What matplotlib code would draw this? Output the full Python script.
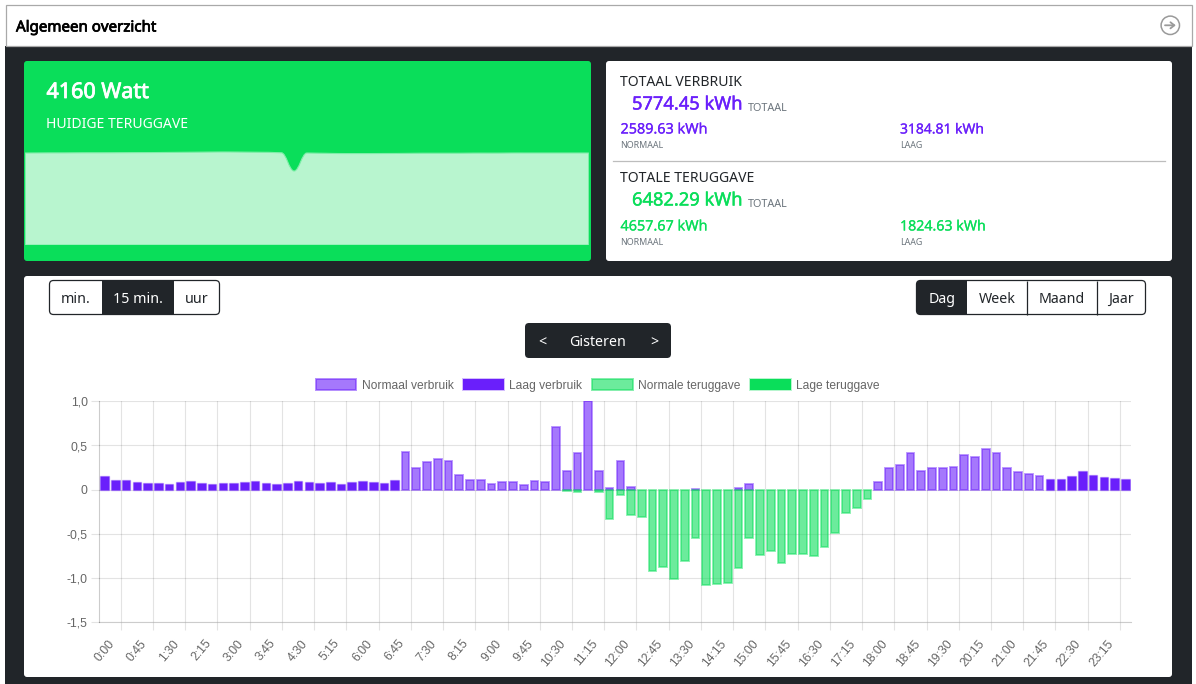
import numpy as np
import matplotlib
matplotlib.use("Agg")
import matplotlib.pyplot as plt
import matplotlib.patheffects as pe
from matplotlib.patches import FancyBboxPatch, Rectangle, PathPatch, Circle
from matplotlib.path import Path
from matplotlib.transforms import ScaledTranslation

W, H = 1196, 684
UI = "Noto Sans"
CH = "Liberation Sans"
DARK = "#212529"
GREEN = "#0ade5a"
PURPLE = "#6a1ffb"

# ---- data ----
minutes = list(range(0, 24 * 60, 15))
slots = [f"{m // 60}:{m % 60:02d}" for m in minutes]
tick_every = 3

normaal_verbruik = {
    28: .432, 29: .245, 30: .31, 31: .35, 32: .32, 33: .165, 34: .113, 35: .113,
    36: .068, 37: .09, 38: .083, 39: .056, 40: .10, 41: .086, 42: .707, 43: .214,
    44: .413, 45: 1.0, 46: .21, 47: .02, 48: .33, 49: .03, 55: .004, 59: .02,
    60: .066, 72: .086, 73: .241, 74: .278, 75: .41, 76: .21, 77: .244, 78: .244,
    79: .252, 80: .387, 81: .372, 82: .459, 83: .414, 84: .248, 85: .203, 86: .177,
    87: .154,
}
laag_verbruik = {
    0: .158, 1: .113, 2: .105, 3: .09, 4: .075, 5: .08, 6: .068, 7: .083, 8: .10,
    9: .08, 10: .065, 11: .08, 12: .08, 13: .083, 14: .098, 15: .072, 16: .065,
    17: .075, 18: .10, 19: .083, 20: .08, 21: .083, 22: .068, 23: .083, 24: .094,
    25: .09, 26: .072, 27: .105, 88: .124, 89: .117, 90: .158, 91: .214, 92: .165,
    93: .139, 94: .135, 95: .124,
}
normale_teruggave = {
    43: -.012, 44: -.026, 46: -.03, 47: -.335, 48: -.064, 49: -.29, 50: -.305,
    51: -.917, 52: -.872, 53: -1.015, 54: -.808, 55: -.545, 56: -1.083, 57: -1.068,
    58: -1.057, 59: -.891, 60: -.541, 61: -.744, 62: -.695, 63: -.831, 64: -.722,
    65: -.73, 66: -.752, 67: -.643, 68: -.489, 69: -.26, 70: -.207, 71: -.102,
}
lage_teruggave = {}

y_ticks = [1.0, 0.5, 0.0, -0.5, -1.0, -1.5]
y_labels = ["1,0", "0,5", "0", "-0,5", "-1,0", "-1,5"]

live_watt = [4160, 4162, 4165, 4165, 4168, 4170, 4170, 4172, 4175, 4178, 4180, 4185,
             4190, 4195, 4200, 4205, 4205, 4200, 4195, 4190, 4170, 3346, 4160, 4150,
             4140, 4135, 4135, 4135, 4138, 4140, 4145, 4150, 4150, 4150, 4150, 4155,
             4155, 4155, 4160, 4160, 4160, 4160, 4160, 4160, 4160]

fig = plt.figure(figsize=(W / 100, H / 100), dpi=100, facecolor="white")
page = fig.add_axes([0, 0, 1, 1])
page.set_xlim(0, W)
page.set_ylim(H, 0)
page.axis("off")


def px(size):
    return size * 0.72


def rect(x0, y0, x1, y1, fc, ec="none", lw=0, r=0, z=1):
    if r:
        p = FancyBboxPatch((x0 + r, y0 + r), x1 - x0 - 2 * r, y1 - y0 - 2 * r,
                           boxstyle=f"round,pad={r},rounding_size={r}",
                           fc=fc, ec=ec, lw=lw, zorder=z)
    else:
        p = Rectangle((x0, y0), x1 - x0, y1 - y0, fc=fc, ec=ec, lw=lw, zorder=z)
    page.add_patch(p)
    return p


def txt(x, y, s, size, color="#212529", heavy=0.0, ha="left", family=UI):
    t = page.text(x, y, s, fontsize=px(size), color=color, ha=ha,
                  va="center_baseline", family=family, zorder=5)
    if heavy:
        t.set_path_effects([pe.withStroke(linewidth=heavy, foreground=color)])


# page frame
rect(5, 46, 1192, H + 2, DARK)
rect(5.5, 4.5, 1191.5, 45.5, "white", "#a9a9a9", 0.9)
txt(16, 26, "Algemeen overzicht", 15.1, "black", 0.55)
page.add_patch(Circle((1170.3, 25.3), 9.2, fc="none", ec="#9a9a9a", lw=1.1, zorder=5))
page.annotate("", xy=(1175.8, 25.3), xytext=(1165, 25.3), zorder=5,
              arrowprops=dict(arrowstyle="->,head_width=0.22,head_length=0.28",
                              color="#9a9a9a", lw=1.3, shrinkA=0, shrinkB=0))

# cards
rect(24, 61, 591, 261, GREEN, r=3)
rect(606, 61, 1172, 261, "white", r=3)
rect(24, 276, 1172, 677, "white", r=3)

# live card
txt(46.5, 90, "4160 Watt", 21.5, "white", 0.6)
txt(46.5, 123, "HUIDIGE TERUGGAVE", 14.0, "white")

spark = fig.add_axes([25.3 / W, 1 - 245 / H, (588.6 - 25.3) / W, 105 / H])
spark.patch.set_alpha(0)
spark.axis("off")
spark.set_xlim(0, len(live_watt) - 1)
spark.set_ylim(0, 105 * 4160 / 92)
xs = np.arange(len(live_watt), dtype=float)
ys = np.array(live_watt, dtype=float)
slopes = np.gradient(ys)
slopes[19:24] = 0
verts = [(xs[0], 0), (xs[0], ys[0])]
codes = [Path.MOVETO, Path.LINETO]
for i in range(len(xs) - 1):
    verts += [(xs[i] + 0.4, ys[i] + 0.4 * slopes[i]),
              (xs[i + 1] - 0.4, ys[i + 1] - 0.4 * slopes[i + 1]),
              (xs[i + 1], ys[i + 1])]
    codes += [Path.CURVE4] * 3
verts += [(xs[-1], 0), (xs[0], 0)]
codes += [Path.LINETO, Path.CLOSEPOLY]
spark.add_patch(PathPatch(Path(verts, codes), fc="#b8f5cf", ec="#7eeeA8", lw=0.8))

# totals card
txt(620.5, 81, "TOTAAL VERBRUIK", 14, "#212529")
txt(632, 102.5, "5774.45 kWh", 18.3, PURPLE, 0.3)
txt(748, 107, "TOTAAL", 10.8, "#6c757d")
txt(620.5, 128, "2589.63 kWh", 14.4, PURPLE, 0.15)
txt(620.5, 144.5, "NORMAAL", 8.9, "#6c757d")
txt(900, 128, "3184.81 kWh", 13.9, PURPLE, 0.15)
txt(900, 144.5, "LAAG", 8.9, "#6c757d")
page.plot([613, 1165], [160.5, 160.5], color="#bdbdbd", lw=0.9, zorder=4)
txt(620.5, 177, "TOTALE TERUGGAVE", 14, "#212529")
txt(632, 198.5, "6482.29 kWh", 18.3, GREEN, 0.3)
txt(748, 203, "TOTAAL", 10.8, "#6c757d")
txt(620.5, 225, "4657.67 kWh", 14.4, GREEN, 0.15)
txt(620.5, 241.5, "NORMAAL", 8.9, "#6c757d")
txt(900, 225, "1824.63 kWh", 14.2, GREEN, 0.15)
txt(900, 241.5, "LAAG", 8.9, "#6c757d")


def button_group(x0, y0, y1, items, active):
    """items: list of (label, x_end); active: index of the dark one"""
    rect(x0, y0, items[-1][1], y1, "white", r=4, z=2)
    start = x0
    for i, (label, end) in enumerate(items):
        if i == active:
            if i == 0:
                rect(start, y0, end, y1, DARK, r=4, z=3)
                rect(end - 6, y0, end, y1, DARK, z=3)
            else:
                rect(start, y0, end, y1, DARK, z=3)
        txt((start + end) / 2, (y0 + y1) / 2, label, 14.2,
            "white" if i == active else DARK, ha="center")
        if i and i != active and i - 1 != active:
            page.plot([start, start], [y0, y1], color=DARK, lw=0.9, zorder=4,
                      solid_capstyle="butt")
        start = end
    rect(x0, y0, items[-1][1], y1, "none", DARK, 0.9, r=4, z=4)


button_group(49.5, 280.5, 314.5, [("min.", 102), ("15 min.", 174), ("uur", 219.5)], 1)
button_group(916.5, 280.5, 314.5,
             [("Dag", 967), ("Week", 1027), ("Maand", 1097), ("Jaar", 1145.5)], 0)
rect(525, 323, 671, 358, DARK, r=4, z=2)
txt(542, 341, "<", 14.2, "white", ha="center")
txt(598, 341, "Gisteren", 14.2, "white", ha="center")
txt(654, 341, ">", 14.2, "white", ha="center")

# bar chart
L, R, T, B = 99.3, 1130.7, 401.3, 622.3
ax = fig.add_axes([L / W, 1 - B / H, (R - L) / W, (B - T) / H])
ax.set_zorder(3)
ax.patch.set_alpha(0)
ax.set_xlim(-0.5, len(slots) - 0.5)
ax.set_ylim(-1.5, 1.0)


def rgba(c, a):
    return matplotlib.colors.to_rgba(c, a)


series = [
    ("Normaal verbruik", normaal_verbruik, rgba(PURPLE, .6), rgba(PURPLE, .5), .72, 1.3),
    ("Laag verbruik", laag_verbruik, rgba(PURPLE, 1), rgba(PURPLE, .3), .8, 1.0),
    ("Normale teruggave", normale_teruggave, rgba(GREEN, .6), rgba(GREEN, .5), .72, 1.3),
    ("Lage teruggave", lage_teruggave, rgba(GREEN, 1), rgba(GREEN, .3), .8, 1.0),
]
handles = []
for name, d, fc, ec, bw, blw in series:
    ax.bar(list(d.keys()), list(d.values()), width=bw, facecolor=fc,
           edgecolor=ec, linewidth=blw, label=name, zorder=3)
    handles.append(Rectangle((0, 0), 1, 1, facecolor=fc, edgecolor=ec, linewidth=1.4,
                             label=name))

grid = (0, 0, 0, 0.11)
ax.set_yticks(y_ticks, y_labels)
label_idx = list(range(0, len(slots), tick_every))
ax.set_xticks(label_idx, [slots[i] for i in label_idx], rotation=50, ha="right",
              rotation_mode="anchor")
ax.set_xticks([i + 1.5 for i in label_idx], minor=True)
ax.tick_params(axis="x", which="major", length=0, pad=11, labelsize=px(12.3),
               labelcolor="#666666")
ax.tick_params(axis="x", which="minor", length=5.8, width=0.8, color=grid)
ax.tick_params(axis="y", length=5.8, width=0.8, color=grid, pad=2.5, labelsize=px(12.3),
               labelcolor="#666666")
shift = ScaledTranslation(3 / 100, 0, fig.dpi_scale_trans)
for t in ax.get_xticklabels():
    t.set_family(CH)
    t.set_transform(t.get_transform() + shift)
for t in ax.get_yticklabels():
    t.set_family(CH)
ax.grid(True, which="minor", axis="x", color="black", alpha=0.11, lw=0.8, zorder=0)
ax.grid(True, which="major", axis="y", color="black", alpha=0.11, lw=0.8, zorder=0)
ax.grid(False, which="major", axis="x")
ax.set_axisbelow(True)
for s in ["top", "right"]:
    ax.spines[s].set_visible(False)
for s in ["left", "bottom"]:
    ax.spines[s].set_color((0, 0, 0, 0.2))
    ax.spines[s].set_linewidth(0.8)

leg = ax.legend(handles=handles, ncol=4, loc="lower center", bbox_to_anchor=(0.4832, 1.044),
                frameon=False, labelcolor="#666666",
                handlelength=3.4, handleheight=1.1, handletextpad=0.42, columnspacing=0.83,
                borderpad=0, borderaxespad=0, prop={"family": CH, "size": px(12)})

fig.savefig("out.png", dpi=100, facecolor="white")
